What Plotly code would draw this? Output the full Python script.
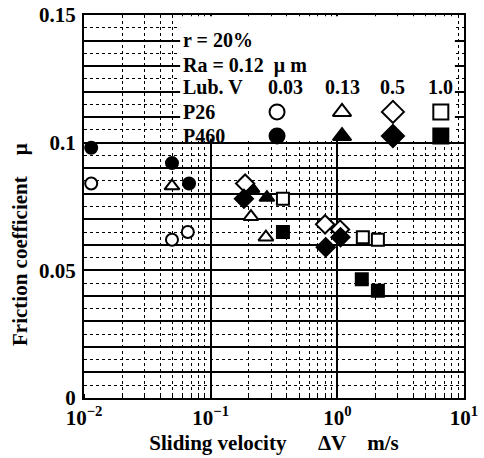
import math
import plotly.graph_objects as go

# ---- data ----
lub_labels = ["0.03", "0.13", "0.5", "1.0"]
symbols = ["circle", "triangle-up", "diamond", "square"]

p26_x = {
    "0.03": [0.0114, 0.0495, 0.066],
    "0.13": [0.0495, 0.208, 0.273],
    "0.5": [0.187, 0.80, 1.05],
    "1.0": [0.372, 1.59, 2.09],
}
p26_y = {
    "0.03": [0.084, 0.062, 0.065],
    "0.13": [0.083, 0.071, 0.063],
    "0.5": [0.084, 0.068, 0.066],
    "1.0": [0.078, 0.063, 0.062],
}
p460_x = {
    "0.03": [0.0114, 0.0495, 0.0675],
    "0.13": [0.212, 0.278],
    "0.5": [0.183, 0.81, 1.06],
    "1.0": [0.372, 1.56, 2.09],
}
p460_y = {
    "0.03": [0.098, 0.092, 0.084],
    "0.13": [0.082, 0.0785],
    "0.5": [0.078, 0.059, 0.063],
    "1.0": [0.065, 0.0465, 0.042],
}

y_tickvals = [round(i * 0.01, 2) for i in range(16)]
y_ticktext = ["0", "", "", "", "", "0.05", "", "", "", "", "0.1", "", "", "", "", "0.15"]
x_tickvals = [0.01, 0.1, 1, 10]
x_ticktext = ["10<sup>\u22122</sup>", "10<sup>\u22121</sup>", "10<sup>0</sup>", "10<sup>1</sup>"]

FONT = "Liberation Serif"
FS = 21
sizes = {"circle": 12, "triangle-up": 13, "diamond": 14, "square": 12}
XR = [-2, 1]
YR = [0, 0.15]

fig = go.Figure()

def add(xs, ys, sym, filled, extra=0):
    fig.add_trace(go.Scatter(
        x=xs, y=ys, mode="markers", cliponaxis=False, showlegend=False,
        marker=dict(symbol=sym, size=sizes[sym] + extra,
                    color="black" if filled else "white",
                    line=dict(color="black", width=2)),
    ))

add(p460_x["0.13"], p460_y["0.13"], "triangle-up", True)
for lab, sym in zip(lub_labels, symbols):
    add(p26_x[lab], p26_y[lab], sym, False)
for lab, sym in zip(lub_labels, symbols):
    if lab != "0.13":
        add(p460_x[lab], p460_y[lab], sym, True)

# legend key markers: positions given as fractions of the plot area
def fx(f):
    return 10 ** (XR[0] + (XR[1] - XR[0]) * f)

def fy(f):
    return YR[0] + (YR[1] - YR[0]) * f

leg_col_x = [0.508, 0.679, 0.813, 0.939]
leg_row_y = [0.747, 0.684]
for row, filled in zip(leg_row_y, [False, True]):
    for cx, sym in zip(leg_col_x, symbols):
        add([fx(cx)], [fy(row)], sym, filled, extra=3)

NB = "\u00a0"
annots = []
def txt(x, y, s, anchor="left", fs=20):
    annots.append(dict(x=x, y=y, xref="paper", yref="paper", text="<b>" + s + "</b>",
                       showarrow=False, xanchor=anchor, yanchor="middle", borderpad=0,
                       font=dict(family=FONT, size=fs, color="black")))

txt(0.258, 0.935, "r = 20%")
txt(0.258, 0.869, "Ra = 0.12" + NB * 2 + "\u03bc m")
txt(0.258, 0.812, "Lub. V")
for cx, lab in zip([0.529, 0.679, 0.813, 0.937], lub_labels):
    txt(cx, 0.812, lab, "center")
txt(0.258, 0.747, "P26")
txt(0.258, 0.684, "P460")
annots.append(dict(x=-0.168, y=0.40, xref="paper", yref="paper",
                   xanchor="center", yanchor="middle",
                   text="<b>Friction coefficient" + NB * 4 + "\u03bc</b>", textangle=-90,
                   showarrow=False, font=dict(family=FONT, size=FS, color="black")))

fig.update_layout(
    width=484, height=458,
    margin=dict(l=84, r=20, t=15, b=60, autoexpand=False),
    paper_bgcolor="white", plot_bgcolor="white",
    font=dict(family=FONT, size=FS, color="black", weight="bold"),
    annotations=annots,
    shapes=[dict(type="rect", xref="x", yref="y", x0=fx(0.253), x1=fx(0.976),
                 y0=0.1015, y1=0.1495, fillcolor="white", line=dict(width=0),
                 layer="between")],
    xaxis=dict(type="log", range=XR, tickvals=x_tickvals, ticktext=x_ticktext,
               automargin=False,
               showgrid=True, gridcolor="black", gridwidth=2,
               showline=True, linecolor="black", linewidth=2, mirror=True,
               ticks="", zeroline=False,
               tickfont=dict(family=FONT, size=FS, weight="bold"),
               minor=dict(dtick="D1", showgrid=True, gridcolor="black", gridwidth=1,
                          griddash="dot", ticks="inside", ticklen=4, tickcolor="black"),
               title=dict(text="<b>Sliding velocity" + NB * 6 + "\u0394V" + NB * 4 + "m/s</b>",
                          standoff=6, font=dict(family=FONT, size=FS))),
    yaxis=dict(range=YR, tickvals=y_tickvals, ticktext=y_ticktext,
               automargin=False,
               showgrid=True, gridcolor="black", gridwidth=2,
               showline=True, linecolor="black", linewidth=2, mirror=True,
               ticks="", zeroline=False, ticklabelstandoff=2,
               tickfont=dict(family=FONT, size=FS, weight="bold"),
               minor=dict(dtick=0.005, showgrid=True, gridcolor="black", gridwidth=1,
                          griddash="dot")),
)

fig.write_html("out.html")
